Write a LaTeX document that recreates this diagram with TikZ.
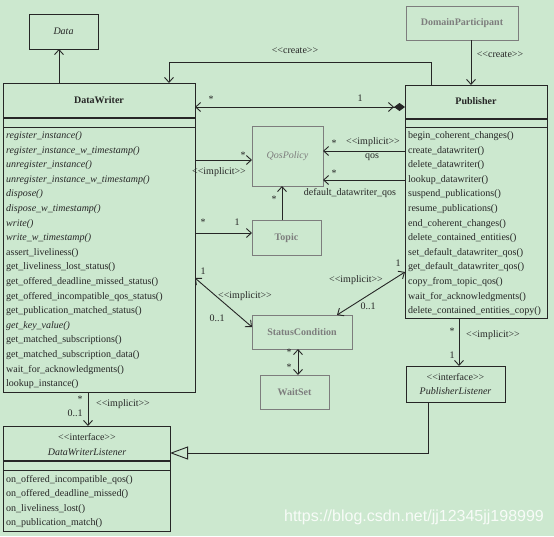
\documentclass[tikz,border=0pt]{standalone}
\usepackage{fontspec}
\setmainfont{Liberation Serif}
\newfontfamily\wmfont{Liberation Sans}
\usetikzlibrary{arrows.meta,calc}
\definecolor{bg}{RGB}{204,232,207}
\definecolor{ink}{RGB}{38,38,38}
\definecolor{greyed}{RGB}{125,125,125}
\newcommand\stereo[1]{<{}<#1>{}>}
\begin{document}
\begin{tikzpicture}[x=1pt,y=-1pt,
  box/.style={draw=ink, line width=1pt, fill=bg, inner sep=0pt, outer sep=0pt, anchor=north west},
  gbox/.style={draw=greyed, line width=1pt, fill=bg, inner sep=0pt, outer sep=0pt, anchor=north west},
  txt/.style={font=\fontsize{10}{12}\selectfont, text=ink, inner sep=0pt},
  gtxt/.style={font=\fontsize{10}{12}\selectfont\bfseries, text=greyed, inner sep=0pt},
  meth/.style={txt, anchor=base west},
  lbl/.style={txt},
  conn/.style={draw=ink, line width=0.9pt},
  ob/.tip={Straight Barb[length=5pt,width=9pt,line width=0.9pt]},
  dia/.tip={Diamond[length=11pt,width=8pt]},
  tri/.tip={Triangle[open,length=18pt,width=13pt,fill=bg,line width=0.9pt]}
]
\fill[bg] (0,0) rectangle (554,536);
\useasboundingbox (0,0) rectangle (554,536);

% ---------- boxes ----------
\node[box, minimum width=69pt, minimum height=35pt] (data) at (29,14) {};
\node[txt, font=\fontsize{10}{12}\selectfont\itshape] (datat) at (63.5,31.5) {Data};

\node[gbox, minimum width=112pt, minimum height=34pt] (dp) at (406,6) {};
\node[gtxt] (dpt) at (462,23) {DomainParticipant};

\node[box, minimum width=192pt, minimum height=309pt] (dw) at (3,83) {};
\node[txt, font=\fontsize{10}{12}\selectfont\bfseries] (dwt) at (99,100) {DataWriter};
\draw[ink, line width=2pt] (dw.west |- 0,118) -- (dw.east |- 0,118);
\draw[ink, line width=1pt] (dw.west |- 0,127) -- (dw.east |- 0,127);
\foreach \t [count=\i from 0] in {
  \textit{register\_instance()},
  \textit{register\_instance\_w\_timestamp()},
  \textit{unregister\_instance()},
  \textit{unregister\_instance\_w\_timestamp()},
  \textit{dispose()},
  \textit{dispose\_w\_timestamp()},
  \textit{write()},
  \textit{write\_w\_timestamp()},
  assert\_liveliness(),
  get\_liveliness\_lost\_status(),
  get\_offered\_deadline\_missed\_status(),
  get\_offered\_incompatible\_qos\_status(),
  get\_publication\_matched\_status(),
  \textit{get\_key\_value()},
  get\_matched\_subscriptions(),
  get\_matched\_subscription\_data(),
  wait\_for\_acknowledgments(),
  lookup\_instance()}
  \node[meth] (dwm\i) at (6,{138.5+14.6*\i}) {\t};

\node[box, minimum width=142pt, minimum height=233pt] (pub) at (405,85) {};
\node[txt, font=\fontsize{10}{12}\selectfont\bfseries] (pubt) at (476,101) {Publisher};
\draw[ink, line width=2pt] (pub.west |- 0,119) -- (pub.east |- 0,119);
\draw[ink, line width=1pt] (pub.west |- 0,127) -- (pub.east |- 0,127);
\foreach \t [count=\i from 0] in {
  begin\_coherent\_changes(),
  create\_datawriter(),
  delete\_datawriter(),
  lookup\_datawriter(),
  suspend\_publications(),
  resume\_publications(),
  end\_coherent\_changes(),
  delete\_contained\_entities(),
  set\_default\_datawriter\_qos(),
  get\_default\_datawriter\_qos(),
  copy\_from\_topic\_qos(),
  wait\_for\_acknowledgments(),
  delete\_contained\_entities\_copy()}
  \node[meth] (pm\i) at (408,{138.5+14.6*\i}) {\t};

\node[gbox, minimum width=71pt, minimum height=60pt] (qos) at (252,126) {};
\node[txt, font=\fontsize{10}{12}\selectfont\itshape, text=greyed] (qost) at (287.5,156) {QosPolicy};

\node[gbox, minimum width=69pt, minimum height=35pt] (topic) at (252,220) {};
\node[gtxt] (topict) at (286.5,238) {Topic};

\node[gbox, minimum width=100pt, minimum height=34pt] (sc) at (252,315) {};
\node[gtxt] (sct) at (302,332) {StatusCondition};

\node[gbox, minimum width=69pt, minimum height=34pt] (ws) at (260,375) {};
\node[gtxt] (wst) at (294.5,392) {WaitSet};

\node[box, minimum width=99pt, minimum height=36pt] (pl) at (406,366) {};
\node[txt] (plst) at (455.5,377) {\stereo{interface}};
\node[txt, font=\fontsize{10}{12}\selectfont\itshape] (plt) at (455.5,391) {PublisherListener};

\node[box, minimum width=167pt, minimum height=105pt] (dwl) at (3,426) {};
\node[txt] (dwlst) at (87,437) {\stereo{interface}};
\node[txt, font=\fontsize{10}{12}\selectfont\itshape] (dwlt) at (87,452) {DataWriterListener};
\draw[ink, line width=2pt] (dwl.west |- 0,461) -- (dwl.east |- 0,461);
\draw[ink, line width=1pt] (dwl.west |- 0,470) -- (dwl.east |- 0,470);
\foreach \t [count=\i from 0] in {
  on\_offered\_incompatible\_qos(),
  on\_offered\_deadline\_missed(),
  on\_liveliness\_lost(),
  on\_publication\_match()}
  \node[meth] (lm\i) at (6,{482.5+14.3*\i}) {\t};

% ---------- connectors ----------
\draw[conn, -{ob}] (dw.north -| 59,0) -- (data.south -| 59,0);

\coordinate (c1) at (431,62);
\coordinate (c2) at (169,62);
\draw[conn, -{ob}] (pub.north -| c1) -- (c1) -- (c2) -- (dw.north -| c2);
\node[lbl] (l1) at (295,51) {\stereo{create}};

\draw[conn, -{ob}] (dp.south -| 471,0) -- (pub.north -| 471,0);
\node[lbl] (l2) at (500,55) {\stereo{create}};

\draw[conn, {ob}-{ob[sep=0pt] dia}] (dw.east |- 0,107) -- (pub.west |- 0,107);
\node[lbl] (l3) at (211,99) {*};
\node[lbl] (l4) at (360,98) {1};

\draw[conn, -{ob}] (dw.east |- 0,160) -- (qos.west |- 0,160);
\node[lbl] (l5) at (243,155) {*};
\node[lbl] (l6) at (219,172) {\stereo{implicit}};

\draw[conn, -{ob}] (pub.west |- 0,151) -- (qos.east |- 0,151);
\node[lbl] (l7) at (334,143) {*};
\node[lbl] (l8) at (373,142) {\stereo{implicit}};
\node[lbl] (l9) at (372,157) {qos};

\draw[conn, -{ob}] (pub.west |- 0,180) -- (qos.east |- 0,180);
\node[lbl] (l10) at (334,173) {*};
\node[lbl] (l11) at (350,193) {default\_datawriter\_qos};

\draw[conn, -{ob}] (topic.north -| 282,0) -- (qos.south -| 282,0);
\node[lbl] (l12) at (274,199) {*};

\draw[conn, -{ob}] (dw.east |- 0,233) -- (topic.west |- 0,233);
\node[lbl] (l13) at (203,222) {*};
\node[lbl] (l14) at (237,222) {1};

\draw[conn, {ob}-{ob}] (dw.east |- 0,278) -- (sc.west |- 0,327);
\node[lbl] (l15) at (203,271) {1};
\node[lbl] (l16) at (245,296) {\stereo{implicit}};
\node[lbl] (l17) at (217,318) {0..1};

\draw[conn, {ob}-{ob}] (pub.west |- 0,272) -- (sc.north -| 337,0);
\node[lbl] (l18) at (398,263) {1};
\node[lbl] (l19) at (356,280) {\stereo{implicit}};
\node[lbl] (l20) at (368,306) {0..1};

\draw[conn, {ob}-{ob}] (sc.south -| 298,0) -- (ws.north -| 298,0);
\node[lbl] (l21) at (289,352) {*};
\node[lbl] (l22) at (289,367) {*};

\draw[conn, -{ob}] (pub.south -| 459,0) -- (pl.north -| 459,0);
\node[lbl] (l23) at (452,331) {*};
\node[lbl] (l24) at (493,335) {\stereo{implicit}};
\node[lbl] (l25) at (452,355) {1};

\coordinate (c3) at (428,453);
\draw[conn, -{tri}] (pl.south -| c3) -- (c3) -- (dwl.east |- c3);

\draw[conn, -{ob}] (dw.south -| 88,0) -- (dwl.north -| 88,0);
\node[lbl] (l26) at (80,399) {*};
\node[lbl] (l27) at (75,413) {0..1};
\node[lbl] (l28) at (123,404) {\stereo{implicit}};

% ---------- watermark ----------
\node[font=\wmfont\fontsize{16}{18}\selectfont, text=white, opacity=0.85, inner sep=0pt] (wm) at (414,517) {https://blog.csdn.net/jj12345jj198999};
\end{tikzpicture}
\end{document}
